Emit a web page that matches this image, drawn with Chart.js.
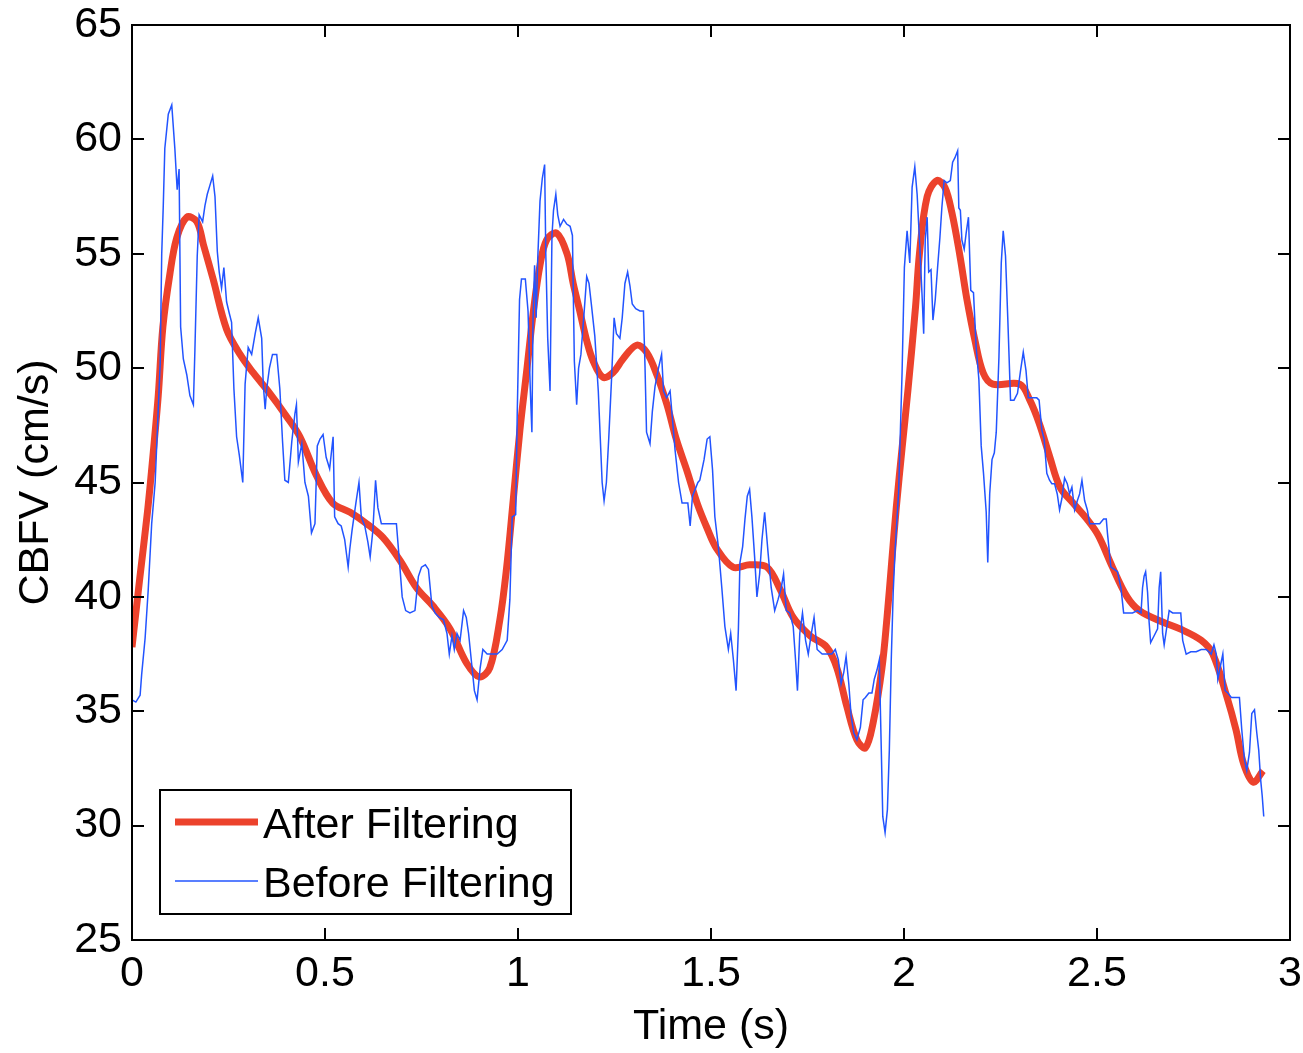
<!DOCTYPE html>
<html>
<head>
<meta charset="utf-8">
<title>CBFV filtering</title>
<script src="https://cdn.jsdelivr.net/npm/chart.js@4.4.1/dist/chart.umd.min.js"></script>
<style>
    body { margin: 0; background: #fff; }
    #wrap { width: 1303px; height: 1053px; }
</style>
</head>
<body>
<div id="wrap"><canvas id="cbfvChart" width="1303" height="1053"></canvas></div>
<script>
// Axis ticks
const xTicks = [0, 0.5, 1, 1.5, 2, 2.5, 3];
const xTickLabels = ['0', '0.5', '1', '1.5', '2', '2.5', '3'];
const yTicks = [25, 30, 35, 40, 45, 50, 55, 60, 65];
const yTickLabels = ['25', '30', '35', '40', '45', '50', '55', '60', '65'];

// After filtering (smoothed trace)
const afterTimes = [0, 0.02, 0.04, 0.055, 0.068, 0.08, 0.098, 0.116, 0.142, 0.168, 0.185, 0.21, 0.245, 0.28, 0.314, 0.357, 0.4, 0.435, 0.478, 0.52, 0.565, 0.608, 0.65, 0.694, 0.737, 0.78, 0.824, 0.867, 0.9, 0.927, 0.953, 0.97, 0.988, 1.005, 1.022, 1.04, 1.057, 1.074, 1.1, 1.127, 1.143, 1.16, 1.178, 1.195, 1.22, 1.246, 1.272, 1.307, 1.333, 1.36, 1.386, 1.41, 1.438, 1.464, 1.49, 1.515, 1.557, 1.6, 1.645, 1.68, 1.713, 1.757, 1.8, 1.826, 1.852, 1.878, 1.9, 1.92, 1.943, 1.956, 1.968, 1.98, 1.995, 2.01, 2.03, 2.04, 2.06, 2.085, 2.106, 2.124, 2.145, 2.163, 2.184, 2.205, 2.23, 2.3, 2.326, 2.35, 2.378, 2.404, 2.438, 2.474, 2.503, 2.54, 2.578, 2.61, 2.67, 2.715, 2.77, 2.8, 2.837, 2.86, 2.88, 2.905, 2.93];
const afterValues = [37.8, 40.8, 43.7, 46.3, 48.8, 51.8, 54.1, 55.7, 56.6, 56.4, 55.4, 53.9, 51.7, 50.6, 49.8, 48.9, 47.9, 47.0, 45.3, 44.1, 43.7, 43.2, 42.6, 41.6, 40.4, 39.6, 38.6, 37.1, 36.5, 36.9, 39.0, 41.2, 44.3, 47.3, 49.8, 52.5, 54.5, 55.6, 55.9, 55.0, 53.7, 52.5, 51.2, 50.3, 49.6, 49.8, 50.4, 51.0, 50.7, 49.7, 48.4, 46.9, 45.5, 44.1, 43.0, 42.1, 41.3, 41.4, 41.3, 40.3, 39.1, 38.3, 37.8, 36.9, 35.2, 33.75, 33.4, 34.5, 36.9, 39.1, 41.5, 43.9, 46.5, 49.0, 52.7, 55.0, 57.5, 58.2, 57.9, 56.8, 54.9, 53.0, 51.2, 49.8, 49.3, 49.3, 48.6, 47.6, 46.1, 44.8, 44.1, 43.4, 42.7, 41.3, 40.0, 39.4, 38.9, 38.6, 38.1, 37.5, 35.6, 34.2, 32.7, 31.9, 32.4];

// Before filtering (raw trace)
const beforeTimes = [0, 0.01, 0.021, 0.025, 0.034, 0.042, 0.051, 0.06, 0.073, 0.077, 0.081, 0.085, 0.094, 0.103, 0.111, 0.117, 0.122, 0.126, 0.133, 0.142, 0.15, 0.159, 0.163, 0.169, 0.174, 0.183, 0.189, 0.195, 0.202, 0.209, 0.215, 0.221, 0.226, 0.232, 0.238, 0.245, 0.252, 0.258, 0.264, 0.271, 0.278, 0.287, 0.293, 0.301, 0.31, 0.319, 0.327, 0.336, 0.34, 0.345, 0.349, 0.356, 0.364, 0.375, 0.383, 0.39, 0.396, 0.405, 0.414, 0.422, 0.426, 0.431,
    0.44, 0.448, 0.457, 0.465, 0.474, 0.48, 0.487, 0.495, 0.503, 0.512, 0.521, 0.525, 0.534, 0.542, 0.551, 0.56, 0.564, 0.57, 0.58, 0.588, 0.594, 0.603, 0.611, 0.617, 0.624, 0.631, 0.637, 0.646, 0.659, 0.672, 0.685, 0.694, 0.7, 0.709, 0.72, 0.733, 0.742, 0.75, 0.76, 0.768, 0.777, 0.785, 0.796, 0.807, 0.816, 0.822, 0.829, 0.835, 0.842, 0.85, 0.859, 0.866, 0.872, 0.881, 0.887, 0.894, 0.902, 0.909, 0.92, 0.933, 0.946, 0.959, 0.972, 0.979, 0.985, 0.994, 0.998, 1.004,
    1.009, 1.019, 1.026, 1.032, 1.036, 1.039, 1.043, 1.047, 1.051, 1.057, 1.063, 1.069, 1.072, 1.077, 1.083, 1.088, 1.092, 1.098, 1.103, 1.109, 1.118, 1.126, 1.135, 1.141, 1.146, 1.152, 1.157, 1.163, 1.172, 1.178, 1.184, 1.19, 1.199, 1.208, 1.213, 1.218, 1.223, 1.229, 1.235, 1.242, 1.249, 1.255, 1.264, 1.27, 1.277, 1.284, 1.29, 1.296, 1.305, 1.316, 1.325, 1.329, 1.333, 1.342, 1.348, 1.355, 1.364, 1.372, 1.377, 1.385, 1.394, 1.4, 1.407, 1.416, 1.425, 1.433, 1.44, 1.446, 1.452, 1.459, 1.466,
    1.471, 1.482, 1.49, 1.497, 1.504, 1.51, 1.519, 1.528, 1.536, 1.545, 1.551, 1.558, 1.565, 1.571, 1.575, 1.582, 1.588, 1.594, 1.6, 1.606, 1.613, 1.619, 1.626, 1.632, 1.639, 1.648, 1.656, 1.665, 1.674, 1.682, 1.688, 1.695, 1.704, 1.713, 1.719, 1.724, 1.73, 1.737, 1.745, 1.752, 1.76, 1.767, 1.775, 1.788, 1.8, 1.813, 1.822, 1.83, 1.837, 1.844, 1.85, 1.857, 1.863, 1.87, 1.878, 1.887, 1.894, 1.9, 1.909, 1.917, 1.923, 1.93, 1.936, 1.94, 1.945, 1.951, 1.957, 1.962, 1.967, 1.972,
    1.977, 1.986, 1.995, 2.001, 2.008, 2.015, 2.021, 2.028, 2.034, 2.041, 2.047, 2.051, 2.055, 2.06, 2.064, 2.07, 2.075, 2.081, 2.087, 2.093, 2.098, 2.104, 2.111, 2.12, 2.126, 2.132, 2.139, 2.142, 2.146, 2.15, 2.156, 2.161, 2.167, 2.173, 2.18, 2.187, 2.194, 2.2, 2.206, 2.213, 2.217, 2.222, 2.228, 2.234, 2.239, 2.246, 2.252, 2.257, 2.263, 2.269, 2.276, 2.285, 2.294, 2.302, 2.309, 2.316, 2.322, 2.329, 2.337, 2.344, 2.35, 2.357, 2.363, 2.37, 2.377, 2.383, 2.39, 2.397, 2.403, 2.409, 2.416, 2.423, 2.429, 2.435, 2.442, 2.449, 2.455,
    2.461, 2.468, 2.475, 2.481, 2.494, 2.507, 2.517, 2.524, 2.527, 2.536, 2.545, 2.553, 2.562, 2.569, 2.579, 2.592, 2.605, 2.614, 2.618, 2.622, 2.626, 2.631, 2.635, 2.639, 2.648, 2.657, 2.661, 2.665, 2.67, 2.674, 2.681, 2.687, 2.696, 2.709, 2.717, 2.722, 2.731, 2.743, 2.757, 2.77, 2.783, 2.796, 2.803, 2.809, 2.813, 2.82, 2.826, 2.832, 2.839, 2.848, 2.856, 2.869, 2.875, 2.882, 2.888, 2.895, 2.901, 2.908, 2.914, 2.919, 2.924, 2.928, 2.932];
const beforeValues = [35.5, 35.4, 35.7, 36.6, 38.2, 40.3, 43.2, 45.0, 50.2, 55.0, 57.1, 59.6, 61.1, 61.5, 59.6, 57.8, 58.7, 51.8, 50.4, 49.7, 48.8, 48.4, 50.8, 54.9, 56.7, 56.4, 57.1, 57.6, 58.0, 58.4, 57.5, 55.1, 54.2, 53.5, 54.4, 52.9, 52.4, 52.0, 49.1, 47.0, 46.2, 45.0, 49.3, 50.9, 50.6, 51.5, 52.2, 51.3, 49.3, 48.2, 49.1, 50.0, 50.6, 50.6, 49.1, 46.8, 45.1, 45.0, 46.8, 48.0, 48.4, 45.9,
    46.7, 45.0, 44.4, 42.8, 43.2, 46.6, 46.9, 47.1, 46.1, 45.6, 47.0, 43.5, 43.2, 43.1, 42.5, 41.3, 42.05, 42.9, 44.1, 45.0, 43.5, 43.1, 42.4, 41.75, 42.9, 45.1, 43.9, 43.2, 43.2, 43.2, 43.2, 41.3, 40.0, 39.4, 39.3, 39.4, 40.9, 41.3, 41.4, 41.2, 39.6, 39.3, 39.1, 39.0, 38.4, 37.5, 38.3, 37.7, 38.4, 38.1, 39.4, 39.1, 38.4, 36.9, 35.9, 35.5, 36.9, 37.7, 37.5, 37.5, 37.5, 37.7, 38.1, 39.9, 43.5, 43.6, 48.0, 53.0,
    53.9, 53.9, 52.5, 49.0, 47.2, 52.2, 54.5, 52.2, 54.7, 57.3, 58.3, 58.9, 55.0, 51.3, 49.0, 55.8, 56.9, 57.6, 56.7, 56.2, 56.5, 56.3, 56.2, 55.8, 50.3, 48.4, 50.0, 50.6, 52.6, 54.0, 53.7, 52.8, 51.4, 49.0, 47.0, 45.0, 44.2, 45.0, 46.9, 49.4, 52.2, 51.5, 51.3, 52.2, 53.7, 54.2, 53.6, 52.8, 52.6, 52.5, 52.5, 50.1, 47.2, 46.7, 48.1, 49.2, 50.0, 50.6, 49.0, 48.7, 49.0, 47.8, 46.4, 45.0, 44.1, 44.1, 44.1, 43.1, 44.4, 44.7, 45.0,
    45.1, 46.0, 46.9, 47.0, 45.55, 43.5, 42.2, 40.4, 38.7, 37.7, 38.4, 37.25, 35.9, 38.6, 41.5, 42.2, 43.4, 44.4, 44.7, 43.5, 41.75, 40.0, 41.0, 42.5, 43.7, 41.9, 40.4, 39.4, 39.9, 40.4, 41.0, 39.4, 39.3, 38.7, 37.25, 35.9, 38.4, 39.3, 38.1, 37.5, 38.4, 39.1, 37.7, 37.5, 37.5, 37.5, 37.7, 37.25, 36.2, 36.7, 37.4, 36.2, 34.8, 34.05, 33.75, 34.3, 35.5, 35.6, 35.8, 35.8, 36.4, 36.8, 37.25, 34.2, 30.4, 29.7, 30.7, 33.3, 37.25, 40.2,
    42.05, 44.55, 49.8, 54.4, 56.0, 54.6, 57.9, 58.8, 57.6, 55.3, 53.1, 51.5, 55.6, 56.6, 54.2, 54.3, 52.1, 53.0, 54.4, 55.7, 57.0, 58.2, 58.1, 58.2, 59.0, 59.2, 59.5, 57.0, 56.9, 55.6, 55.2, 55.9, 56.6, 53.4, 53.3, 50.9, 49.5, 46.6, 45.4, 43.7, 41.5, 44.5, 46.0, 46.3, 47.2, 50.5, 54.6, 56.0, 54.9, 52.1, 48.6, 48.6, 48.9, 49.9, 50.7, 49.9, 48.7, 48.7, 48.7, 48.7, 48.6, 47.3, 46.9, 45.4, 45.1, 44.95, 44.95, 44.5, 43.8, 44.3, 45.2, 44.95, 44.5, 44.8, 43.8, 44.2, 44.5,
    45.1, 44.2, 43.8, 43.2, 43.2, 43.2, 43.4, 43.4, 42.8, 41.3, 41.2, 41.1, 40.4, 39.3, 39.3, 39.3, 39.4, 39.3, 40.4, 40.9, 41.1, 40.2, 38.9, 38.0, 38.3, 38.6, 40.4, 41.1, 38.4, 37.9, 38.7, 39.4, 39.3, 39.3, 39.3, 38.1, 37.5, 37.6, 37.6, 37.7, 37.7, 37.5, 37.9, 37.5, 36.4, 37.0, 37.5, 35.9, 35.8, 35.6, 35.6, 35.6, 34.2, 32.9, 32.4, 33.2, 34.9, 35.06, 34.05, 33.3, 32.0, 31.3, 30.4];

const RED = 'rgb(236, 66, 44)';
const BLUE = 'rgb(34, 84, 255)';
const FONT = '"Liberation Sans", Arial, Helvetica, sans-serif';
const FONT_SIZE = 43;

const toPoints = (xs, ys) => xs.map((x, i) => ({ x: x, y: ys[i] }));

// MATLAB-style box with inward ticks on all four sides
const boxTicks = {
    id: 'boxTicks',
    afterDatasetsDraw(chart) {
        const { ctx, chartArea: a, scales } = chart;
        const len = 12;
        ctx.save();
        ctx.strokeStyle = '#000';
        ctx.lineWidth = 2;
        ctx.beginPath();
        xTicks.forEach(v => {
            const px = Math.round(scales.x.getPixelForValue(v));
            ctx.moveTo(px, a.bottom); ctx.lineTo(px, a.bottom - len);
            ctx.moveTo(px, a.top); ctx.lineTo(px, a.top + len);
        });
        yTicks.forEach(v => {
            const py = Math.round(scales.y.getPixelForValue(v));
            ctx.moveTo(a.left, py); ctx.lineTo(a.left + len, py);
            ctx.moveTo(a.right, py); ctx.lineTo(a.right - len, py);
        });
        ctx.stroke();
        ctx.strokeRect(a.left, a.top, a.right - a.left, a.bottom - a.top);
        ctx.restore();
    }
};

// Legend box in the lower left of the axes
const boxLegend = {
    id: 'boxLegend',
    afterDraw(chart) {
        const { ctx, chartArea: a } = chart;
        const x0 = a.left + 28, y0 = a.bottom - 150;
        const w = 411, h = 124;
        ctx.save();
        ctx.fillStyle = '#fff';
        ctx.fillRect(x0, y0, w, h);
        ctx.strokeStyle = '#000';
        ctx.lineWidth = 2;
        ctx.strokeRect(x0, y0, w, h);
        ctx.font = FONT_SIZE + 'px ' + FONT;
        ctx.fillStyle = '#000';
        ctx.textBaseline = 'middle';
        chart.data.datasets.forEach((ds, i) => {
            const ly = y0 + 32 + i * 59;
            ctx.strokeStyle = ds.borderColor;
            ctx.lineWidth = ds.borderWidth;
            ctx.beginPath();
            ctx.moveTo(x0 + 15, ly);
            ctx.lineTo(x0 + 98, ly);
            ctx.stroke();
            ctx.fillText(ds.label, x0 + 103, ly + 4);
        });
        ctx.restore();
    }
};

const ctx = document.getElementById('cbfvChart').getContext('2d');
new Chart(ctx, {
    type: 'line',
    data: {
        datasets: [
            {
                label: 'After Filtering',
                data: toPoints(afterTimes, afterValues),
                borderColor: RED,
                borderWidth: 7,
                pointRadius: 0,
                tension: 0.35,
                order: 1
            },
            {
                label: 'Before Filtering',
                data: toPoints(beforeTimes, beforeValues),
                borderColor: BLUE,
                borderWidth: 1.5,
                pointRadius: 0,
                tension: 0,
                order: 0
            }
        ]
    },
    options: {
        responsive: false,
        animation: false,
        layout: { padding: { top: 25, right: 13, left: 0, bottom: 0 } },
        plugins: {
            legend: { display: false },
            tooltip: { enabled: false }
        },
        scales: {
            x: {
                type: 'linear',
                min: 0,
                max: 3,
                afterBuildTicks: s => { s.ticks = xTicks.map(v => ({ value: v })); },
                afterFit: s => {
                    s.height = 113;
                    s.paddingLeft = 0;
                    s.paddingRight = 0;
                },
                grid: { display: false, drawTicks: false },
                border: { display: false },
                ticks: {
                    color: '#000',
                    padding: 8,
                    maxRotation: 0,
                    font: { family: FONT, size: FONT_SIZE },
                    callback: (v, i) => xTickLabels[i]
                },
                title: {
                    display: true,
                    text: 'Time (s)',
                    color: '#000',
                    padding: { top: 0, bottom: 0 },
                    font: { family: FONT, size: FONT_SIZE }
                }
            },
            y: {
                min: 25,
                max: 65,
                afterBuildTicks: s => { s.ticks = yTicks.map(v => ({ value: v })); },
                afterFit: s => {
                    s.width = 132;
                    s.paddingTop = 0;
                    s.paddingBottom = 0;
                },
                grid: { display: false, drawTicks: false },
                border: { display: false },
                ticks: {
                    color: '#000',
                    padding: 10,
                    font: { family: FONT, size: FONT_SIZE },
                    callback: (v, i) => yTickLabels[i]
                },
                title: {
                    display: true,
                    text: 'CBFV (cm/s)',
                    color: '#000',
                    padding: { top: 10, bottom: 0 },
                    font: { family: FONT, size: FONT_SIZE }
                }
            }
        }
    },
    plugins: [boxTicks, boxLegend]
});
</script>
</body>
</html>
